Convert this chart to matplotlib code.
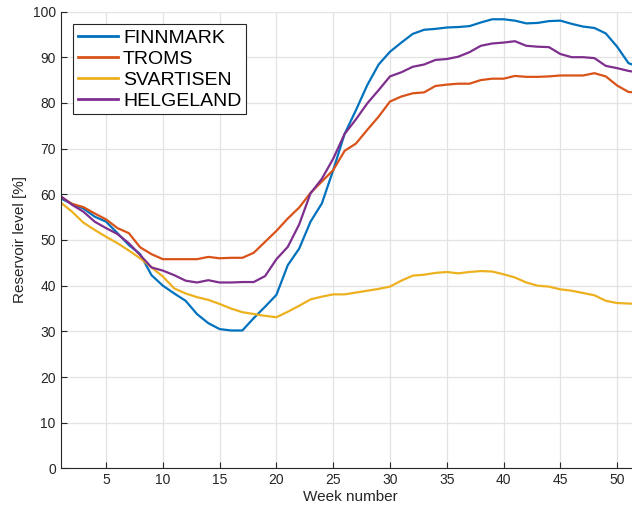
import matplotlib

matplotlib.use("Agg")
import matplotlib.pyplot as plt
import numpy as np

plt.rcParams["font.family"] = ["Liberation Sans", "DejaVu Sans"]

weeks = np.arange(1, 53)

finnmark = [
    59.1, 57.9, 56.9, 55.1, 54.0, 51.5, 48.9, 46.9, 42.3, 40.0,
    38.3, 36.7, 33.8, 31.8, 30.5, 30.2, 30.2, 32.9, 35.4, 38.0,
    44.5, 48.1, 54.0, 58.0, 65.3, 73.2, 78.4, 83.9, 88.4, 91.2,
    93.2, 95.1, 96.0, 96.2, 96.5, 96.6, 96.8, 97.6, 98.3, 98.3,
    98.0, 97.4, 97.5, 97.9, 98.0, 97.3, 96.7, 96.4, 95.2, 92.3,
    88.7, 87.8,
]
troms = [
    59.5, 57.9, 57.2, 55.8, 54.5, 52.6, 51.5, 48.4, 46.9, 45.8,
    45.8, 45.8, 45.8, 46.3, 46.0, 46.1, 46.1, 47.2, 49.6, 52.0,
    54.7, 57.1, 60.3, 62.8, 65.3, 69.5, 71.1, 74.1, 77.0, 80.3,
    81.4, 82.1, 82.3, 83.7, 84.0, 84.2, 84.2, 85.0, 85.3, 85.3,
    85.9, 85.7, 85.7, 85.8, 86.0, 86.0, 86.0, 86.5, 85.8, 83.8,
    82.4, 82.2,
]
svartisen = [
    58.2, 56.2, 53.8, 52.2, 50.7, 49.3, 47.7, 46.0, 44.0, 42.0,
    39.4, 38.3, 37.5, 36.9, 36.0, 35.0, 34.2, 33.8, 33.4, 33.1,
    34.3, 35.6, 37.0, 37.6, 38.1, 38.1, 38.5, 38.9, 39.3, 39.8,
    41.1, 42.2, 42.4, 42.8, 43.0, 42.7, 43.0, 43.2, 43.1, 42.5,
    41.8, 40.7, 40.0, 39.8, 39.2, 38.9, 38.4, 37.9, 36.7, 36.2,
    36.1, 36.0,
]
helgeland = [
    59.6, 57.7, 56.2, 54.0, 52.6, 51.3, 49.3, 46.7, 44.0, 43.3,
    42.3, 41.1, 40.7, 41.2, 40.7, 40.7, 40.8, 40.8, 42.1, 45.8,
    48.5, 53.4, 60.2, 63.4, 67.8, 73.2, 76.4, 79.9, 82.8, 85.8,
    86.7, 87.9, 88.4, 89.4, 89.6, 90.1, 91.1, 92.5, 93.0, 93.2,
    93.5, 92.5, 92.3, 92.2, 90.7, 90.0, 90.0, 89.8, 88.1, 87.6,
    87.0, 86.6,
]

series = [
    ("FINNMARK", finnmark, "#0072BD"),
    ("TROMS", troms, "#D95319"),
    ("SVARTISEN", svartisen, "#EDB120"),
    ("HELGELAND", helgeland, "#7E2F8E"),
]

fig = plt.figure(figsize=(6.32, 5.09), dpi=100)
ax = fig.add_axes([0.096, 0.0796, 0.9164, 0.8978])

for name, values, color in series:
    ax.plot(weeks, values, color=color, linewidth=1.6, label=name)

ax.set_xlim(1, 52)
ax.set_ylim(0, 100)
ax.set_xticks(np.arange(5, 52, 5))
ax.set_yticks(np.arange(0, 101, 10))
ax.grid(True, color="#e3e3e3", linewidth=0.9)
ax.set_axisbelow(True)

for side in ("top", "right"):
    ax.spines[side].set_visible(False)
for side in ("left", "bottom"):
    ax.spines[side].set_color("#262626")
    ax.spines[side].set_linewidth(0.8)
ax.tick_params(direction="in", length=4, width=0.8, colors="#262626",
               labelsize=10, labelcolor="#262626")

ax.set_xlabel("Week number", fontsize=11, color="#262626", labelpad=2)
ax.set_ylabel("Reservoir level [%]", fontsize=11, color="#262626", labelpad=4)

leg = ax.legend(
    loc="upper left",
    bbox_to_anchor=(0.0218, 0.972),
    borderaxespad=0,
    fontsize=14,
    frameon=True,
    fancybox=False,
    handlelength=2.05,
    handletextpad=0.25,
    labelspacing=0.17,
    borderpad=0.25,
)
leg.get_frame().set_edgecolor("#262626")
leg.get_frame().set_linewidth(0.8)
leg.get_frame().set_alpha(1)
for line in leg.get_lines():
    line.set_linewidth(2.0)

fig.savefig("out.png", dpi=100)
plt.close(fig)
